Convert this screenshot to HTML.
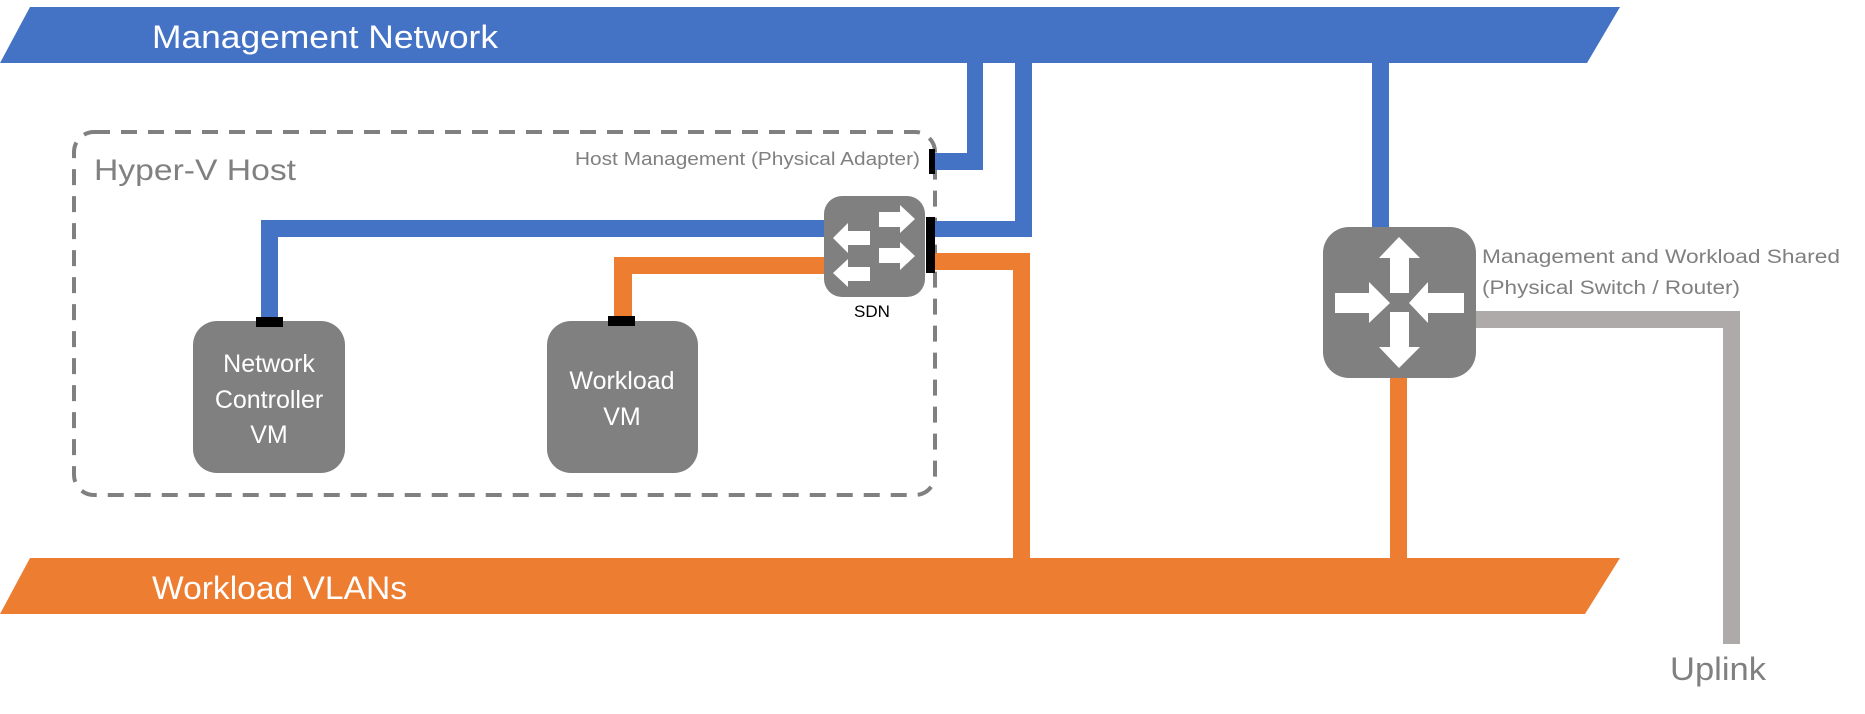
<!DOCTYPE html>
<html><head><meta charset="utf-8"><style>
html,body{margin:0;padding:0;background:#fff;}
svg{display:block;}
text{font-family:"Liberation Sans",sans-serif;}
</style></head><body>
<svg width="1865" height="714" viewBox="0 0 1865 714" xmlns="http://www.w3.org/2000/svg">
<!-- bars -->
<polygon points="30,7 1620,7 1587,63 0,63" fill="#4472c4"/>
<polygon points="30,558 1620,558 1585,614 0,614" fill="#ed7d31"/>
<text x="152" y="48" font-size="32" fill="#fff" textLength="346" lengthAdjust="spacingAndGlyphs">Management Network</text>
<text x="152" y="599" font-size="32" fill="#fff" textLength="255" lengthAdjust="spacingAndGlyphs">Workload VLANs</text>

<!-- dashed host -->
<rect x="74" y="132" width="861" height="363" rx="20" fill="none" stroke="#808080" stroke-width="4" stroke-dasharray="16,11"/>
<text x="94" y="180" font-size="30" fill="#808080" textLength="202" lengthAdjust="spacingAndGlyphs">Hyper-V Host</text>
<text x="575" y="165" font-size="18" fill="#808080" textLength="345" lengthAdjust="spacingAndGlyphs">Host Management (Physical Adapter)</text>

<!-- blue lines -->
<polygon points="967,63 983,63 983,170 935,170 935,153 967,153" fill="#4472c4"/>
<polygon points="1015,63 1032,63 1032,237 935,237 935,221 1015,221" fill="#4472c4"/>
<polygon points="261,322 261,220 830,220 830,237 278,237 278,322" fill="#4472c4"/>
<rect x="1372" y="63" width="17" height="165" fill="#4472c4"/>
<!-- orange lines -->
<polygon points="935,253 1030,253 1030,558 1013,558 1013,270 935,270" fill="#ed7d31"/>
<polygon points="614,320 614,257 830,257 830,274 632,274 632,320" fill="#ed7d31"/>
<rect x="1390" y="376" width="17" height="183" fill="#ed7d31"/>
<!-- gray uplink -->
<polygon points="1474,311 1740,311 1740,644 1723,644 1723,328 1474,328" fill="#aeaaaa"/>

<!-- SDN switch -->
<rect x="824" y="196" width="101" height="101" rx="18" fill="#808080"/>
<g fill="#fff">
<polygon points="879,212 900,212 900,205 915,219 900,233 900,227 879,227"/>
<polygon points="879,248 900,248 900,242 915,256 900,270 900,263 879,263"/>
<polygon points="870,231 848,231 848,223 833,238 848,253 848,245 870,245"/>
<polygon points="870,267 848,267 848,259 833,273 848,287 848,281 870,281"/>
</g>
<rect x="926" y="217" width="9" height="56" fill="#000"/>
<rect x="929" y="149" width="6" height="25" fill="#000"/>
<text x="872" y="317" font-size="17" fill="#000" text-anchor="middle">SDN</text>

<!-- VMs -->
<rect x="193" y="321" width="152" height="152" rx="24" fill="#808080"/>
<rect x="547" y="321" width="151" height="152" rx="24" fill="#808080"/>
<rect x="256" y="317" width="27" height="10" fill="#000"/>
<rect x="608" y="316" width="27" height="10" fill="#000"/>
<g font-size="25" fill="#fff" text-anchor="middle">
<text x="269" y="372">Network</text>
<text x="269" y="408">Controller</text>
<text x="269" y="443">VM</text>
<text x="622" y="389">Workload</text>
<text x="622" y="425">VM</text>
</g>

<!-- router -->
<rect x="1323" y="227" width="153" height="151" rx="26" fill="#808080"/>
<g fill="#fff">
<polygon points="1399,237 1420,258 1409,258 1409,293 1390,293 1390,258 1379,258"/>
<polygon points="1399,368 1420,347 1409,347 1409,312 1390,312 1390,347 1379,347"/>
<polygon points="1390,303 1369,282 1369,293 1335,293 1335,313 1369,313 1369,323"/>
<polygon points="1409,303 1428,282 1428,293 1464,293 1464,313 1428,313 1428,323"/>
</g>
<text x="1482" y="263" font-size="19" fill="#808080" textLength="358" lengthAdjust="spacingAndGlyphs">Management and Workload Shared</text>
<text x="1482" y="294" font-size="19" fill="#808080" textLength="258" lengthAdjust="spacingAndGlyphs">(Physical Switch / Router)</text>
<text x="1670" y="680" font-size="32" fill="#808080" textLength="96" lengthAdjust="spacingAndGlyphs">Uplink</text>
</svg>
</body></html>
